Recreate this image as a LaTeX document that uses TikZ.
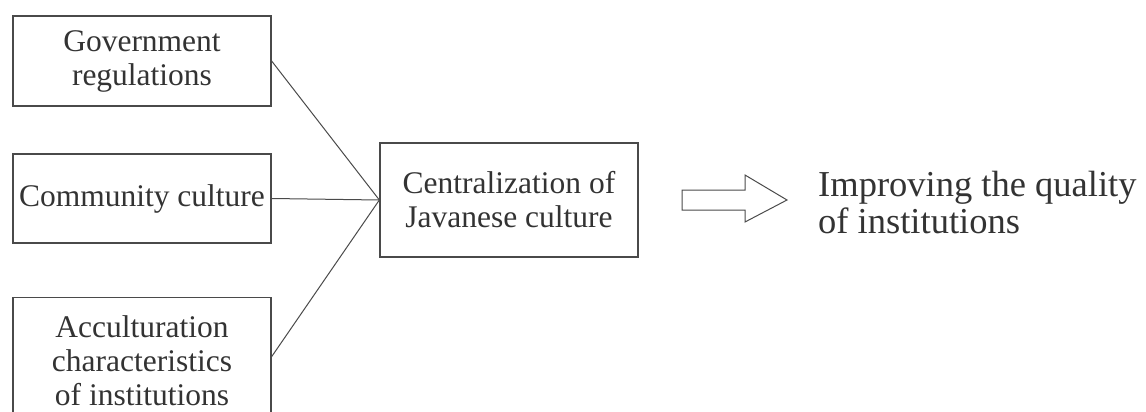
\documentclass[tikz,border=0pt]{standalone}
\usepackage{fontspec}
\setmainfont{Liberation Serif}
\usepackage{xcolor}
\definecolor{ln}{HTML}{4A4A4A}
\definecolor{tx}{HTML}{333333}
\begin{document}
\begin{tikzpicture}[x=1pt,y=-1pt,
  box/.style={draw=ln, line width=1.3pt, text=tx, align=center, minimum width=258pt, inner sep=0pt, font=\fontsize{31.5}{34}\selectfont},
  conn/.style={draw=ln, line width=1pt},
  fatarrow/.style={draw=ln, line width=1pt, line join=miter}]
\useasboundingbox (0,0) rectangle (1146,412);
\node[box, minimum height=90pt] (gov) at (142,61) {Government\\regulations};
\node[box, minimum height=89pt] (com) at (142,198.5) {Community culture};
\node[box, minimum height=126pt, anchor=north] (acc) at (142,297) {Acculturation\\characteristics\\of institutions};
\node[box, minimum height=114pt] (cen) at (509,200) {Centralization of\\Javanese culture};
\draw[conn] (gov.east) -- (cen.west);
\draw[conn] (com.east) -- (cen.west);
\draw[conn] ([yshift=4pt]acc.east) -- (cen.west);
\draw[fatarrow] (682,190) -- (745,190) -- (745,175) -- (787,200) -- (745,222) -- (745,210) -- (682,210) -- cycle;
\node[text=tx, align=left, anchor=west, inner sep=0pt, font=\fontsize{36.5}{37}\selectfont] (imp) at (818,203) {Improving the quality\\of institutions};
\end{tikzpicture}
\end{document}
